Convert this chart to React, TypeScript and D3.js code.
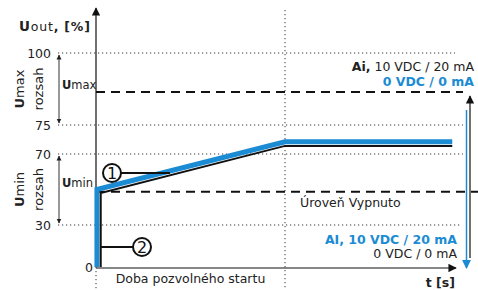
import React from 'react';
import * as d3 from 'd3';

// hodnoty osy Y (nelineární osa)
const yTicks = [0, 30, 70, 75, 100];
const yPixels = [267, 225, 154, 125, 53];
const umaxLevel = 86.5;
const uminLevel = 48.8;
const rampEnd = 10; // konec doby pozvolného startu
const tEnd = 18.85;

// průběh výstupu
const blueProfile = [
  { t: 0.05, u: 0 },
  { t: 0.05, u: 50 },
  { t: rampEnd, u: 72.1 },
  { t: tEnd, u: 72.1 },
];
const blackProfile = [
  { t: 0.25, u: 0 },
  { t: 0.25, u: 48 },
  { t: rampEnd, u: 71.4 },
  { t: tEnd, u: 71.4 },
];

const BLUE = '#1b8bd3';
const FONT = 'DejaVu Sans, Verdana, sans-serif';

export default function App() {
  const x = d3.scaleLinear().domain([0, rampEnd]).range([96, 285]);
  const y = d3.scaleLinear().domain(yTicks).range(yPixels);

  const line = d3.line<{ t: number; u: number }>()
    .x(d => x(d.t))
    .y(d => y(d.u));

  const gridEnds: Record<number, number> = { 100: 455, 75: 463, 70: 463, 30: 460 };

  const circ1 = { cx: 112, cy: 173 };
  const circ2 = { cx: 142, cy: 247 };

  return (
    <svg width={478} height={290} style={{ position: 'absolute', left: 0, top: 0 }} fontFamily={FONT}>
      <defs>
        <marker id="ah" viewBox="0 0 10 10" refX="9" refY="5" markerWidth="7" markerHeight="7" orient="auto-start-reverse">
          <path d="M0,0 L10,5 L0,10 z" fill="#111" />
        </marker>
        <marker id="ahs" viewBox="0 0 10 10" refX="9" refY="5" markerWidth="5" markerHeight="6" orient="auto-start-reverse">
          <path d="M0,0 L10,5 L0,10 z" fill="#222" />
        </marker>
        <marker id="ahb" viewBox="0 0 10 10" refX="9" refY="5" markerWidth="6" markerHeight="7" orient="auto-start-reverse">
          <path d="M0,0 L10,5 L0,10 z" fill={BLUE} />
        </marker>
      </defs>

      {/* tečkované mřížky */}
      {yTicks.filter(v => v > 0).map(v => (
        <line key={v} x1={58} x2={gridEnds[v]} y1={y(v)} y2={y(v)}
          stroke="#333" strokeWidth={1} strokeDasharray="1.2 2.8" />
      ))}
      <line x1={x(rampEnd)} x2={x(rampEnd)} y1={10} y2={290} stroke="#333" strokeDasharray="1.2 2.8" />
      <line x1={96} x2={96} y1={y(0)} y2={290} stroke="#333" strokeDasharray="1.2 2.8" />

      {/* čárkované úrovně */}
      <line x1={96} x2={463} y1={y(umaxLevel)} y2={y(umaxLevel)} stroke="#111" strokeWidth={2} strokeDasharray="9 6" />
      <line x1={96} x2={478} y1={y(uminLevel)} y2={y(uminLevel)} stroke="#111" strokeWidth={2} strokeDasharray="9 6" />

      {/* osy */}
      <line x1={96} x2={96} y1={y(0)} y2={8} stroke="#111" strokeWidth={1.2} markerEnd="url(#ah)" />
      <line x1={96} x2={456} y1={y(0) + 1} y2={y(0) + 1} stroke="#111" strokeWidth={1.2} markerEnd="url(#ah)" />

      {/* průběhy */}
      <path d={line(blueProfile) || ''} fill="none" stroke={BLUE} strokeWidth={5} />
      <path d={line(blackProfile) || ''} fill="none" stroke="#111" strokeWidth={2} />

      {/* popisky 1 a 2 */}
      <line x1={circ1.cx + 9} x2={170} y1={circ1.cy} y2={circ1.cy} stroke="#111" strokeWidth={2} />
      <circle cx={circ1.cx} cy={circ1.cy} r={9} fill="#fff" stroke="#111" strokeWidth={2} />
      <text x={circ1.cx} y={circ1.cy + 6} textAnchor="middle" fontSize={16} fill="#111">1</text>
      <line x1={101} x2={circ2.cx - 9} y1={circ2.cy} y2={circ2.cy} stroke="#111" strokeWidth={2} />
      <circle cx={circ2.cx} cy={circ2.cy} r={9} fill="#fff" stroke="#111" strokeWidth={2} />
      <text x={circ2.cx} y={circ2.cy + 6} textAnchor="middle" fontSize={16} fill="#111">2</text>

      {/* popisky osy Y */}
      {yTicks.map(v => (
        <text key={v} x={v === 0 ? 93 : 51} y={y(v) + 4.5} textAnchor="end" fontSize={12.5} fill="#222">{v}</text>
      ))}
      <text x={19} y={31} fontSize={12.5} fill="#222" letterSpacing={0.8}>
        <tspan fontWeight="bold" fontSize={13.5}>U</tspan><tspan>out</tspan><tspan fontWeight="bold">, [%]</tspan>
      </text>

      {/* rozsahy */}
      <line x1={59} x2={59} y1={y(100) + 2} y2={y(75) - 2} stroke="#333" strokeWidth={1} markerStart="url(#ahs)" markerEnd="url(#ahs)" />
      <line x1={59} x2={59} y1={y(70) + 2} y2={y(30) - 2} stroke="#333" strokeWidth={1} markerStart="url(#ahs)" markerEnd="url(#ahs)" />
      <g transform={`translate(24,${(y(100) + y(75)) / 2}) rotate(-90)`}>
        <text textAnchor="middle" fontSize={13} fill="#222"><tspan fontWeight="bold">U</tspan>max</text>
      </g>
      <g transform={`translate(43,${(y(100) + y(75)) / 2}) rotate(-90)`}>
        <text textAnchor="middle" fontSize={13} fill="#222">rozsah</text>
      </g>
      <g transform={`translate(24,${(y(70) + y(30)) / 2}) rotate(-90)`}>
        <text textAnchor="middle" fontSize={13} fill="#222"><tspan fontWeight="bold">U</tspan>min</text>
      </g>
      <g transform={`translate(43,${(y(70) + y(30)) / 2}) rotate(-90)`}>
        <text textAnchor="middle" fontSize={13} fill="#222">rozsah</text>
      </g>
      <text x={62} y={89} fontSize={11.5} fill="#222"><tspan fontWeight="bold">U</tspan>max</text>
      <text x={62} y={187} fontSize={11.5} fill="#222"><tspan fontWeight="bold">U</tspan>min</text>

      {/* pravé šipky */}
      <line x1={470} x2={470} y1={258} y2={96} stroke="#111" strokeWidth={1.2} markerEnd="url(#ah)" />
      <line x1={466.5} x2={466.5} y1={110} y2={268} stroke={BLUE} strokeWidth={1.5} markerEnd="url(#ahb)" />

      {/* texty vpravo */}
      <text x={474} y={71} textAnchor="end" fontSize={12.5} fill="#222">
        <tspan fontWeight="bold">Ai,</tspan> 10 VDC / 20 mA
      </text>
      <text x={474} y={85.5} textAnchor="end" fontSize={12.5} fontWeight="bold" fill={BLUE}>0 VDC / 0 mA</text>
      <text x={300} y={207} fontSize={12.5} fill="#222">Úroveň Vypnuto</text>
      <text x={457} y={243.5} textAnchor="end" fontSize={12.5} fontWeight="bold" fill={BLUE}>AI, 10 VDC / 20 mA</text>
      <text x={457} y={258} textAnchor="end" fontSize={12.5} fill="#222">0 VDC / 0 mA</text>
      <text x={(96 + x(rampEnd)) / 2} y={283} textAnchor="middle" fontSize={12.5} fill="#222">Doba pozvolného startu</text>
      <text x={455} y={287} textAnchor="end" fontSize={12.5} fontWeight="bold" fill="#222">t [s]</text>
    </svg>
  );
}
